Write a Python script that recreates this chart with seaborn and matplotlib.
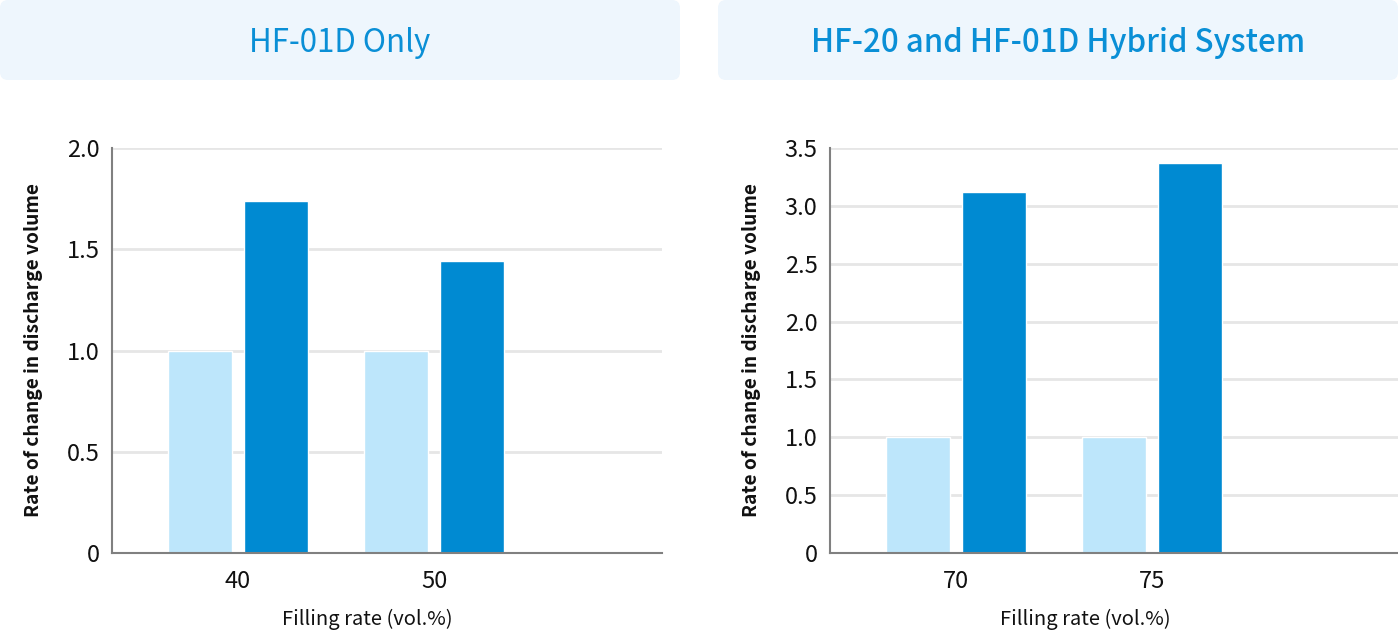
import pandas as pd
import seaborn as sns
import matplotlib.pyplot as plt
from matplotlib.patches import FancyBboxPatch

# data
left_rates = ['40', '50']
left_base = [1.0, 1.0]
left_new = [1.74, 1.44]

right_rates = ['70', '75']
right_base = [1.0, 1.0]
right_new = [3.12, 3.37]

series = ['base', 'new']
colors = ['#bde6fb', '#008ad2']

left_ticks = [0, 0.5, 1.0, 1.5, 2.0]
left_ticklabels = ['0', '0.5', '1.0', '1.5', '2.0']
right_ticks = [0, 0.5, 1.0, 1.5, 2.0, 2.5, 3.0, 3.5]
right_ticklabels = ['0', '0.5', '1.0', '1.5', '2.0', '2.5', '3.0', '3.5']


def to_long(rates, base, new):
    return pd.DataFrame({
        'rate': rates * 2,
        'series': [series[0]] * len(rates) + [series[1]] * len(rates),
        'value': base + new,
    })


sns.set_theme(style='white')
plt.rcParams['font.family'] = ['Noto Sans CJK JP', 'DejaVu Sans']

W, H = 1398, 633
fig = plt.figure(figsize=(W / 100, H / 100), dpi=100)

# header boxes, drawn in inches (1 px = 0.01 in)
for x0, x1, title, weight in [(0, 680, 'HF-01D Only', 'normal'),
                              (718, 1398, 'HF-20 and HF-01D Hybrid System', 'medium')]:
    box = FancyBboxPatch((x0 / 100 + 0.06, (H - 80) / 100 + 0.06), (x1 - x0) / 100 - 0.12, 0.80 - 0.12,
                         boxstyle='round,pad=0.06,rounding_size=0.08',
                         transform=fig.dpi_scale_trans, facecolor='#eef6fd', edgecolor='none')
    fig.patches.append(box)
    fig.text((x0 + x1) / 2 / W, (H - 43) / H, title, ha='center', va='center',
             fontsize=22.5, color='#0a8fd6', weight=weight)

panels = [
    (112, 662, 367, left_rates, left_base, left_new, 2.0, left_ticks, left_ticklabels),
    (830, 1398, 1085, right_rates, right_base, right_new, 3.5, right_ticks, right_ticklabels),
]

for x0, x1, xlab_x, rates, base, new, ymax, ticks, ticklabels in panels:
    ax = fig.add_axes([x0 / W, (H - 553) / H, (x1 - x0) / W, 405 / H])
    df = to_long(rates, base, new)
    sns.barplot(data=df, x='rate', y='value', hue='series', palette=colors,
                width=0.776, gap=0.158, saturation=1, legend=False, ax=ax)
    ax.set_xlim(-0.643, -0.643 + (x1 - x0) / 196)
    ax.set_ylim(0, ymax)
    ax.set_yticks(ticks)
    ax.set_yticklabels(ticklabels)
    ax.yaxis.grid(True, color='#e6e6e6', linewidth=2)
    ax.set_axisbelow(True)
    for s in ['top', 'right']:
        ax.spines[s].set_visible(False)
    for s in ['left', 'bottom']:
        ax.spines[s].set_color('#808080')
        ax.spines[s].set_linewidth(1.5)
    ax.tick_params(axis='both', length=0, labelsize=17, colors='#111111', pad=9)
    ax.tick_params(axis='x', pad=12)
    ax.set_xlabel('Filling rate (vol.%)', fontsize=14.5, color='#111111')
    ax.xaxis.set_label_coords((xlab_x - x0) / (x1 - x0), -(609 - 553) / 405)
    ax.set_ylabel('Rate of change in discharge volume', fontsize=13.8, weight='bold',
                  color='#111111', labelpad=17)

fig.savefig('out.png', dpi=100)
